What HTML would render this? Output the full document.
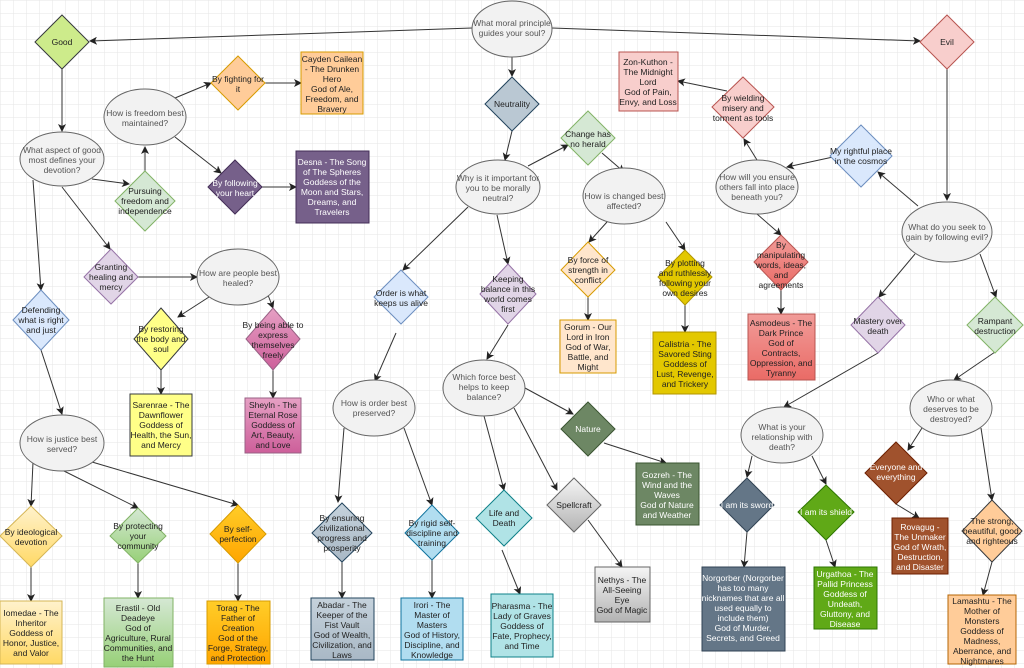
<!DOCTYPE html>
<html><head><meta charset="utf-8"><style>
html,body{margin:0;padding:0;background:#fff}
svg{display:block}
text{font-family:"Liberation Sans",sans-serif;font-size:8.5px;fill:#222;text-anchor:middle}
.q{fill:#555}
.w{fill:#fff}
</style></head><body>
<svg width="1024" height="668" viewBox="0 0 1024 668" xmlns="http://www.w3.org/2000/svg">
<defs>
<pattern id="g" width="13" height="13" patternUnits="userSpaceOnUse"><path d="M13 0H0V13" fill="none" stroke="#e6e6e6" stroke-width="1"/></pattern>
<marker id="a" markerWidth="8" markerHeight="8" refX="7" refY="4" orient="auto" markerUnits="userSpaceOnUse"><path d="M0,0 L8,4 L0,8 L2,4z" fill="#222"/></marker>
<linearGradient id="pk" x1="0" y1="0" x2="0" y2="1"><stop offset="0" stop-color="#e6a0c4"/><stop offset="1" stop-color="#cd5f9a"/></linearGradient>
<linearGradient id="yl" x1="0" y1="0" x2="0" y2="1"><stop offset="0" stop-color="#fff2cc"/><stop offset="1" stop-color="#ffd966"/></linearGradient>
<linearGradient id="gr" x1="0" y1="0" x2="0" y2="1"><stop offset="0" stop-color="#d5e8d4"/><stop offset="1" stop-color="#97d077"/></linearGradient>
<linearGradient id="or" x1="0" y1="0" x2="0" y2="1"><stop offset="0" stop-color="#ffcd28"/><stop offset="1" stop-color="#ffa500"/></linearGradient>
<linearGradient id="bg" x1="0" y1="0" x2="0" y2="1"><stop offset="0" stop-color="#c5d2dc"/><stop offset="1" stop-color="#a9b8c5"/></linearGradient>
<linearGradient id="gy" x1="0" y1="0" x2="0" y2="1"><stop offset="0" stop-color="#f5f5f5"/><stop offset="1" stop-color="#b3b3b3"/></linearGradient>
<linearGradient id="rd" x1="0" y1="0" x2="0" y2="1"><stop offset="0" stop-color="#f19c99"/><stop offset="1" stop-color="#ea6b66"/></linearGradient>
</defs>
<rect width="1024" height="668" fill="url(#g)"/>

<g stroke="#333" stroke-width="1" fill="none" marker-end="url(#a)">
<path d="M472 28L90 41"/><path d="M552 28L920 41"/><path d="M512 57L512 76"/>
<path d="M62 69L62 131"/><path d="M92 179L129 184"/><path d="M145 171L145 147"/>
<path d="M175 98L211 83"/><path d="M265 83L301 83"/><path d="M175 137L221 173"/>
<path d="M262 187L296 187"/><path d="M62 187L110 249"/><path d="M138 277L197 277"/>
<path d="M209 297L178 317"/><path d="M268 295L273 308"/><path d="M161 370L161 394"/>
<path d="M273 370L273 398"/><path d="M33 180L41 290"/><path d="M41 350L62 414"/>
<path d="M33 462L31 506"/><path d="M62 470L138 508"/><path d="M92 462L238 505"/>
<path d="M31 567L31 601"/><path d="M138 563L138 598"/><path d="M238 563L238 601"/>
<path d="M512 131L505 160"/><path d="M528 166L568 145"/><path d="M602 153L624 172"/>
<path d="M607 222L589 242"/><path d="M666 222L685 250"/><path d="M588 297L588 320"/>
<path d="M685 305L685 332"/><path d="M468 207L403 270"/><path d="M497 215L508 264"/>
<path d="M396 333L375 381"/><path d="M508 325L487 359"/><path d="M344 428L338 502"/>
<path d="M404 428L432 505"/><path d="M484 416L504 490"/><path d="M525 388L573 414"/>
<path d="M514 408L557 490"/><path d="M604 443L666 463"/><path d="M588 520L622 567"/>
<path d="M502 550L520 594"/><path d="M342 562L342 598"/><path d="M432 560L432 598"/>
<path d="M947 69L947 200"/><path d="M918 206L878 172"/><path d="M833 157L787 167"/>
<path d="M757 160L744 139"/><path d="M727 91L678 81"/><path d="M757 214L781 235"/>
<path d="M781 290L781 314"/><path d="M915 254L879 297"/><path d="M980 254L996 297"/>
<path d="M878 353L784 407"/><path d="M752 456L747 477"/><path d="M812 456L826 484"/>
<path d="M747 532L744 567"/><path d="M826 540L835 567"/><path d="M995 352L954 380"/>
<path d="M922 428L908 450"/><path d="M981 428L992 500"/><path d="M896 504L919 518"/>
<path d="M992 562L983 595"/>
</g>

<!-- ellipses -->
<g fill="#f2f2f2" stroke="#666">
<ellipse cx="512" cy="29" rx="40" ry="28"/>
<ellipse cx="62" cy="159" rx="42" ry="27"/>
<ellipse cx="145" cy="117" rx="41" ry="28"/>
<ellipse cx="238" cy="277" rx="41" ry="28"/>
<ellipse cx="62" cy="443" rx="42" ry="28"/>
<ellipse cx="498" cy="187" rx="42" ry="27"/>
<ellipse cx="624" cy="196" rx="41" ry="28"/>
<ellipse cx="757" cy="187" rx="41" ry="27"/>
<ellipse cx="947" cy="232" rx="45" ry="30"/>
<ellipse cx="374" cy="408" rx="41" ry="28"/>
<ellipse cx="484" cy="388" rx="41" ry="28"/>
<ellipse cx="782" cy="435" rx="41" ry="28"/>
<ellipse cx="951" cy="408" rx="41" ry="28"/>
</g>
<g class="q">
<text class="q" x="512" y="26">What moral principle<tspan x="512" dy="10">guides your soul?</tspan></text>
<text class="q" x="62" y="153">What aspect of good<tspan x="62" dy="10">most defines your</tspan><tspan x="62" dy="10">devotion?</tspan></text>
<text class="q" x="145" y="116">How is freedom best<tspan x="145" dy="10">maintained?</tspan></text>
<text class="q" x="238" y="276">How are people best<tspan x="238" dy="10">healed?</tspan></text>
<text class="q" x="62" y="442">How is justice best<tspan x="62" dy="10">served?</tspan></text>
<text class="q" x="498" y="181">Why is it important for<tspan x="498" dy="10">you to be morally</tspan><tspan x="498" dy="10">neutral?</tspan></text>
<text class="q" x="624" y="199">How is changed best<tspan x="624" dy="10">affected?</tspan></text>
<text class="q" x="757" y="180">How will you ensure<tspan x="757" dy="10">others fall into place</tspan><tspan x="757" dy="10">beneath you?</tspan></text>
<text class="q" x="947" y="230">What do you seek to<tspan x="947" dy="10">gain by following evil?</tspan></text>
<text class="q" x="374" y="406">How is order best<tspan x="374" dy="10">preserved?</tspan></text>
<text class="q" x="484" y="380">Which force best<tspan x="484" dy="10">helps to keep</tspan><tspan x="484" dy="10">balance?</tspan></text>
<text class="q" x="782" y="430">What is your<tspan x="782" dy="10">relationship with</tspan><tspan x="782" dy="10">death?</tspan></text>
<text class="q" x="951" y="402">Who or what<tspan x="951" dy="10">deserves to be</tspan><tspan x="951" dy="10">destroyed?</tspan></text>
</g>

<!-- diamonds -->
<path d="M62 15L89 42L62 69L35 42z" fill="#cdeb8b" stroke="#36393d"/><text x="62" y="45">Good</text>
<path d="M947 15L974 42L947 69L920 42z" fill="#f8cecc" stroke="#b85450"/><text x="947" y="45">Evil</text>
<path d="M512 77L539 104L512 131L485 104z" fill="#bac8d3" stroke="#23445d"/><text x="512" y="107">Neutrality</text>
<path d="M238 56L265 83L238 110L211 83z" fill="#ffcc99" stroke="#d79b00"/><text x="238" y="82">By fighting for<tspan x="238" dy="10">it</tspan></text>
<path d="M235 160L262 187L235 214L208 187z" fill="#76608a" stroke="#432d57"/><text class="w" x="235" y="186">By following<tspan x="235" dy="10">your heart</tspan></text>
<path d="M145 171L175 201L145 231L115 201z" fill="#d5e8d4" stroke="#82b366"/><text x="145" y="194">Pursuing<tspan x="145" dy="10">freedom and</tspan><tspan x="145" dy="10">independence</tspan></text>
<path d="M111 249L138 277L111 304L84 277z" fill="#e1d5e7" stroke="#9673a6"/><text x="111" y="270">Granting<tspan x="111" dy="10">healing and</tspan><tspan x="111" dy="10">mercy</tspan></text>
<path d="M41 290L69 320L41 350L13 320z" fill="#dae8fc" stroke="#6c8ebf"/><text x="41" y="313">Defending<tspan x="41" dy="10">what is right</tspan><tspan x="41" dy="10">and just</tspan></text>
<path d="M161 308L188 339L161 370L134 339z" fill="#ffff88" stroke="#36393d"/><text x="161" y="332">By restoring<tspan x="161" dy="10">the body and</tspan><tspan x="161" dy="10">soul</tspan></text>
<path d="M273 308L300 339L273 370L246 339z" fill="url(#pk)" stroke="#996185"/><text x="273" y="328">By being able to<tspan x="273" dy="10">express</tspan><tspan x="273" dy="10">themselves</tspan><tspan x="273" dy="10">freely</tspan></text>
<path d="M31 506L62 536L31 567L0 536z" fill="url(#yl)" stroke="#d6b656"/><text x="31" y="535">By ideological<tspan x="31" dy="10">devotion</tspan></text>
<path d="M138 508L166 536L138 563L110 536z" fill="url(#gr)" stroke="#82b366"/><text x="138" y="529">By protecting<tspan x="138" dy="10">your</tspan><tspan x="138" dy="10">community</tspan></text>
<path d="M238 505L266 534L238 563L210 534z" fill="url(#or)" stroke="#d79b00"/><text x="238" y="532">By self-<tspan x="238" dy="10">perfection</tspan></text>
<path d="M342 503L372 533L342 562L312 533z" fill="url(#bg)" stroke="#23445d"/><text x="342" y="521">By ensuring<tspan x="342" dy="10">civilizational</tspan><tspan x="342" dy="10">progress and</tspan><tspan x="342" dy="10">prosperity</tspan></text>
<path d="M432 505L459 533L432 560L405 533z" fill="#b1ddf0" stroke="#10739e"/><text x="432" y="526">By rigid self-<tspan x="432" dy="10">discipline and</tspan><tspan x="432" dy="10">training</tspan></text>
<path d="M504 490L532 518L504 546L476 518z" fill="#b0e3e6" stroke="#0e8088"/><text x="504" y="516">Life and<tspan x="504" dy="10">Death</tspan></text>
<path d="M574 478L601 505L574 532L547 505z" fill="url(#gy)" stroke="#666"/><text x="574" y="508">Spellcraft</text>
<path d="M588 402L615 429L588 456L561 429z" fill="#6d8764" stroke="#3a5431"/><text class="w" x="588" y="432">Nature</text>
<path d="M401 270L428 297L401 324L374 297z" fill="#dae8fc" stroke="#6c8ebf"/><text x="401" y="296">Order is what<tspan x="401" dy="10">keeps us alive</tspan></text>
<path d="M508 264L536 294L508 324L480 294z" fill="#e1d5e7" stroke="#9673a6"/><text x="508" y="282">Keeping<tspan x="508" dy="10">balance in this</tspan><tspan x="508" dy="10">world comes</tspan><tspan x="508" dy="10">first</tspan></text>
<path d="M588 111L615 138L588 165L561 138z" fill="#d5e8d4" stroke="#82b366"/><text x="588" y="137">Change has<tspan x="588" dy="10">no herald</tspan></text>
<path d="M588 242L615 270L588 297L561 270z" fill="#ffe6cc" stroke="#d79b00"/><text x="588" y="263">By force of<tspan x="588" dy="10">strength in</tspan><tspan x="588" dy="10">conflict</tspan></text>
<path d="M685 250L712 277L685 305L658 277z" fill="#e3c800" stroke="#b09500"/><text x="685" y="266">By plotting<tspan x="685" dy="10">and ruthlessly</tspan><tspan x="685" dy="10">following your</tspan><tspan x="685" dy="10">own desires</tspan></text>
<path d="M743 77L774 107L743 138L712 107z" fill="#f8cecc" stroke="#b85450"/><text x="743" y="101">By wielding<tspan x="743" dy="10">misery and</tspan><tspan x="743" dy="10">torment as tools</tspan></text>
<path d="M861 125L892 156L861 187L830 156z" fill="#dae8fc" stroke="#6c8ebf"/><text x="861" y="154">My rightful place<tspan x="861" dy="10">in the cosmos</tspan></text>
<path d="M781 235L808 262L781 290L754 262z" fill="url(#rd)" stroke="#b85450"/><text x="781" y="248">By<tspan x="781" dy="10">manipulating</tspan><tspan x="781" dy="10">words, ideas,</tspan><tspan x="781" dy="10">and</tspan><tspan x="781" dy="10">agreements</tspan></text>
<path d="M878 297L905 325L878 353L851 325z" fill="#e1d5e7" stroke="#9673a6"/><text x="878" y="324">Mastery over<tspan x="878" dy="10">death</tspan></text>
<path d="M995 297L1023 325L995 353L967 325z" fill="#d5e8d4" stroke="#82b366"/><text x="995" y="324">Rampant<tspan x="995" dy="10">destruction</tspan></text>
<path d="M747 478L774 505L747 532L720 505z" fill="#647687" stroke="#314354"/><text class="w" x="747" y="508">I am its sword</text>
<path d="M826 485L854 512L826 540L798 512z" fill="#60a917" stroke="#2d7600"/><text class="w" x="826" y="515">I am its shield</text>
<path d="M896 442L927 473L896 504L865 473z" fill="#a0522d" stroke="#6d1f00"/><text class="w" x="896" y="470">Everyone and<tspan x="896" dy="10">everything</tspan></text>
<path d="M992 500L1022 531L992 562L962 531z" fill="#ffcc99" stroke="#36393d"/><text x="992" y="524">The strong,<tspan x="992" dy="10">beautiful, good,</tspan><tspan x="992" dy="10">and righteous</tspan></text>

<!-- rects -->
<rect x="301" y="52" width="62" height="62" fill="#ffcc99" stroke="#d79b00"/><text x="332" y="62">Cayden Cailean<tspan x="332" dy="10">- The Drunken</tspan><tspan x="332" dy="10">Hero</tspan><tspan x="332" dy="10">God of Ale,</tspan><tspan x="332" dy="10">Freedom, and</tspan><tspan x="332" dy="10">Bravery</tspan></text>
<rect x="296" y="151" width="73" height="72" fill="#76608a" stroke="#432d57"/><text class="w" x="332" y="165">Desna - The Song<tspan x="332" dy="10">of The Spheres</tspan><tspan x="332" dy="10">Goddess of the</tspan><tspan x="332" dy="10">Moon and Stars,</tspan><tspan x="332" dy="10">Dreams, and</tspan><tspan x="332" dy="10">Travelers</tspan></text>
<rect x="619" y="52" width="59" height="59" fill="#f8cecc" stroke="#b85450"/><text x="648" y="65">Zon-Kuthon -<tspan x="648" dy="10">The Midnight</tspan><tspan x="648" dy="10">Lord</tspan><tspan x="648" dy="10">God of Pain,</tspan><tspan x="648" dy="10">Envy, and Loss</tspan></text>
<rect x="130" y="394" width="62" height="62" fill="#ffff88" stroke="#36393d"/><text x="161" y="408">Sarenrae - The<tspan x="161" dy="10">Dawnflower</tspan><tspan x="161" dy="10">Goddess of</tspan><tspan x="161" dy="10">Health, the Sun,</tspan><tspan x="161" dy="10">and Mercy</tspan></text>
<rect x="245" y="398" width="56" height="55" fill="url(#pk)" stroke="#996185"/><text x="273" y="408">Sheyln - The<tspan x="273" dy="10">Eternal Rose</tspan><tspan x="273" dy="10">Goddess of</tspan><tspan x="273" dy="10">Art, Beauty,</tspan><tspan x="273" dy="10">and Love</tspan></text>
<rect x="0" y="601" width="62" height="63" fill="url(#yl)" stroke="#d6b656"/><text x="31" y="616">Iomedae - The<tspan x="31" dy="10">Inheritor</tspan><tspan x="31" dy="10">Goddess of</tspan><tspan x="31" dy="10">Honor, Justice,</tspan><tspan x="31" dy="10">and Valor</tspan></text>
<rect x="104" y="598" width="69" height="69" fill="url(#gr)" stroke="#82b366"/><text x="138" y="611">Erastil - Old<tspan x="138" dy="10">Deadeye</tspan><tspan x="138" dy="10">God of</tspan><tspan x="138" dy="10">Agriculture, Rural</tspan><tspan x="138" dy="10">Communities, and</tspan><tspan x="138" dy="10">the Hunt</tspan></text>
<rect x="207" y="601" width="63" height="63" fill="url(#or)" stroke="#d79b00"/><text x="238" y="611">Torag - The<tspan x="238" dy="10">Father of</tspan><tspan x="238" dy="10">Creation</tspan><tspan x="238" dy="10">God of the</tspan><tspan x="238" dy="10">Forge, Strategy,</tspan><tspan x="238" dy="10">and Protection</tspan></text>
<rect x="311" y="598" width="63" height="62" fill="url(#bg)" stroke="#23445d"/><text x="342" y="608">Abadar - The<tspan x="342" dy="10">Keeper of the</tspan><tspan x="342" dy="10">Fist Vault</tspan><tspan x="342" dy="10">God of Wealth,</tspan><tspan x="342" dy="10">Civilization, and</tspan><tspan x="342" dy="10">Laws</tspan></text>
<rect x="401" y="598" width="62" height="62" fill="#b1ddf0" stroke="#10739e"/><text x="432" y="608">Irori - The<tspan x="432" dy="10">Master of</tspan><tspan x="432" dy="10">Masters</tspan><tspan x="432" dy="10">God of History,</tspan><tspan x="432" dy="10">Discipline, and</tspan><tspan x="432" dy="10">Knowledge</tspan></text>
<rect x="491" y="594" width="62" height="63" fill="#b0e3e6" stroke="#0e8088"/><text x="522" y="609">Pharasma - The<tspan x="522" dy="10">Lady of Graves</tspan><tspan x="522" dy="10">Goddess of</tspan><tspan x="522" dy="10">Fate, Prophecy,</tspan><tspan x="522" dy="10">and Time</tspan></text>
<rect x="595" y="567" width="55" height="55" fill="url(#gy)" stroke="#666"/><text x="622" y="583">Nethys - The<tspan x="622" dy="10">All-Seeing</tspan><tspan x="622" dy="10">Eye</tspan><tspan x="622" dy="10">God of Magic</tspan></text>
<rect x="560" y="320" width="56" height="53" fill="#ffe6cc" stroke="#d79b00"/><text x="588" y="330">Gorum - Our<tspan x="588" dy="10">Lord in Iron</tspan><tspan x="588" dy="10">God of War,</tspan><tspan x="588" dy="10">Battle, and</tspan><tspan x="588" dy="10">Might</tspan></text>
<rect x="653" y="332" width="63" height="62" fill="#e3c800" stroke="#b09500"/><text x="685" y="347">Calistria - The<tspan x="685" dy="10">Savored Sting</tspan><tspan x="685" dy="10">Goddess of</tspan><tspan x="685" dy="10">Lust, Revenge,</tspan><tspan x="685" dy="10">and Trickery</tspan></text>
<rect x="748" y="314" width="67" height="66" fill="url(#rd)" stroke="#b85450"/><text x="781" y="326">Asmodeus - The<tspan x="781" dy="10">Dark Prince</tspan><tspan x="781" dy="10">God of</tspan><tspan x="781" dy="10">Contracts,</tspan><tspan x="781" dy="10">Oppression, and</tspan><tspan x="781" dy="10">Tyranny</tspan></text>
<rect x="636" y="463" width="63" height="62" fill="#6d8764" stroke="#3a5431"/><text class="w" x="667" y="478">Gozreh - The<tspan x="667" dy="10">Wind and the</tspan><tspan x="667" dy="10">Waves</tspan><tspan x="667" dy="10">God of Nature</tspan><tspan x="667" dy="10">and Weather</tspan></text>
<rect x="702" y="567" width="83" height="84" fill="#647687" stroke="#314354"/><text class="w" x="743" y="581">Norgorber (Norgorber<tspan x="743" dy="10">has too many</tspan><tspan x="743" dy="10">nicknames that are all</tspan><tspan x="743" dy="10">used equally to</tspan><tspan x="743" dy="10">include them)</tspan><tspan x="743" dy="10">God of Murder,</tspan><tspan x="743" dy="10">Secrets, and Greed</tspan></text>
<rect x="814" y="567" width="63" height="62" fill="#60a917" stroke="#2d7600"/><text class="w" x="845" y="577">Urgathoa - The<tspan x="845" dy="10">Pallid Princess</tspan><tspan x="845" dy="10">Goddess of</tspan><tspan x="845" dy="10">Undeath,</tspan><tspan x="845" dy="10">Gluttony, and</tspan><tspan x="845" dy="10">Disease</tspan></text>
<rect x="892" y="518" width="56" height="56" fill="#a0522d" stroke="#6d1f00"/><text class="w" x="920" y="530">Rovagug -<tspan x="920" dy="10">The Unmaker</tspan><tspan x="920" dy="10">God of Wrath,</tspan><tspan x="920" dy="10">Destruction,</tspan><tspan x="920" dy="10">and Disaster</tspan></text>
<rect x="948" y="595" width="68" height="69" fill="#ffcc99" stroke="#b46504"/><text x="982" y="604">Lamashtu - The<tspan x="982" dy="10">Mother of</tspan><tspan x="982" dy="10">Monsters</tspan><tspan x="982" dy="10">Goddess of</tspan><tspan x="982" dy="10">Madness,</tspan><tspan x="982" dy="10">Aberrance, and</tspan><tspan x="982" dy="10">Nightmares</tspan></text>
</svg>
</body></html>
